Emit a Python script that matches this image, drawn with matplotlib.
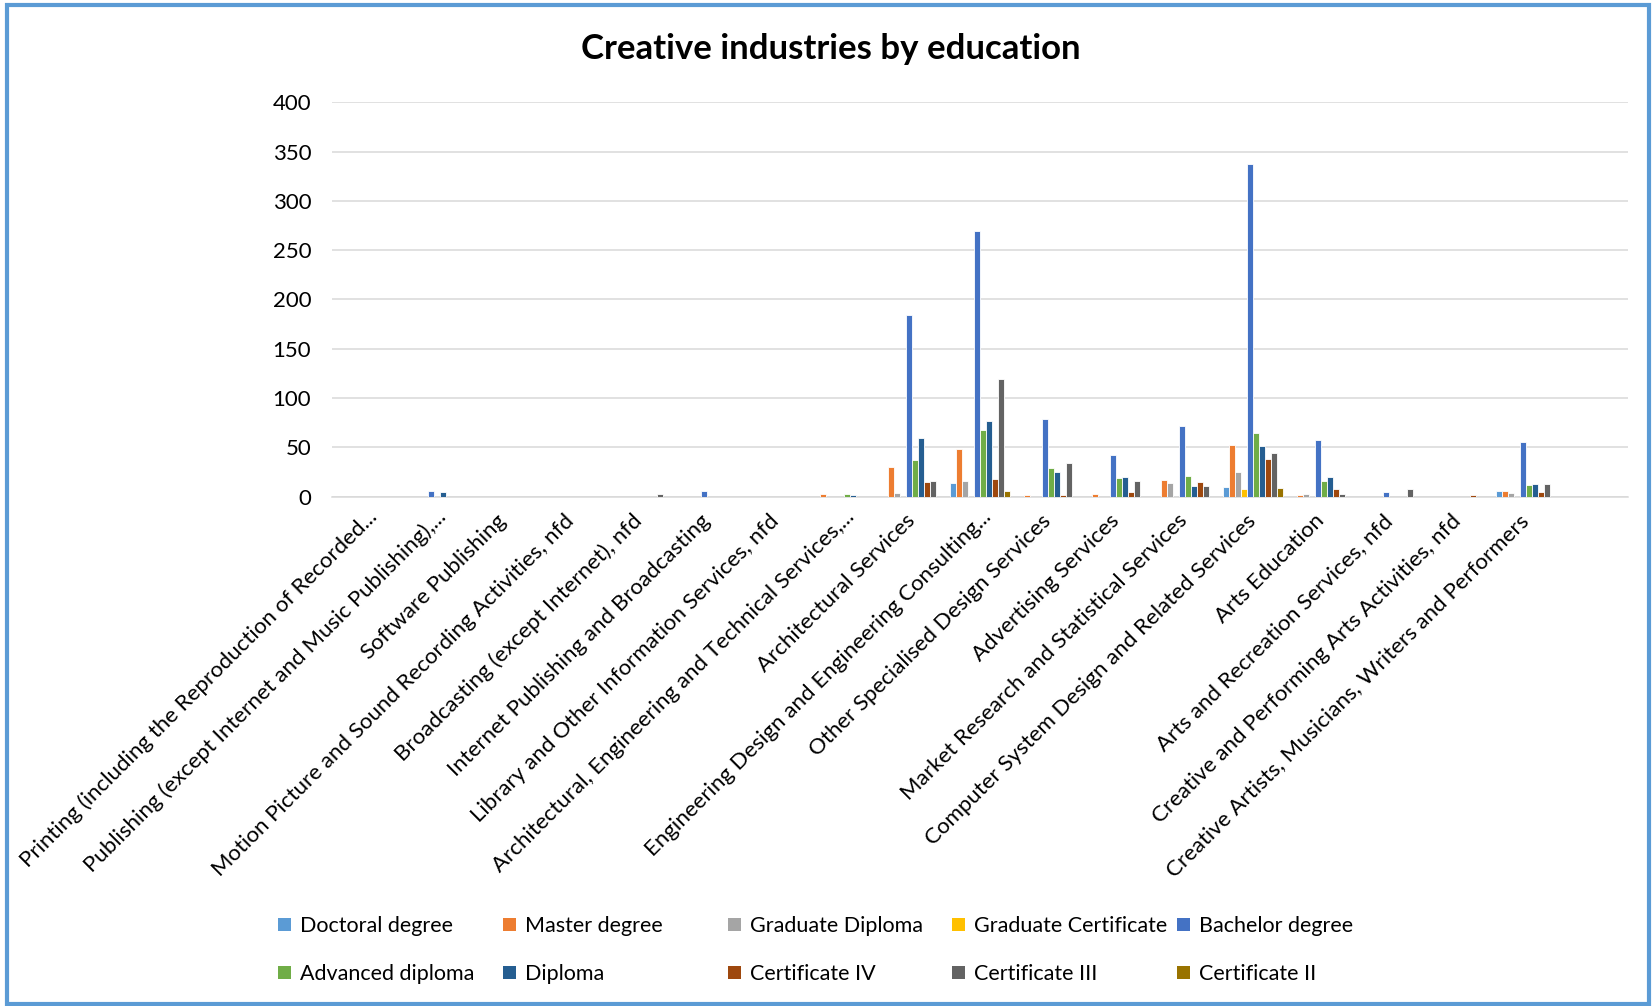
import matplotlib
matplotlib.use("Agg")
import matplotlib.pyplot as plt
import matplotlib.transforms as mtransforms
from matplotlib.patches import Rectangle, Patch
import numpy as np

plt.rcParams["font.family"] = ["Lato", "DejaVu Sans"]

CATEGORIES = [
    "Printing (including the Reproduction of Recorded...",
    "Publishing (except Internet and Music Publishing),...",
    "Software Publishing",
    "Motion Picture and Sound Recording Activities, nfd",
    "Broadcasting (except Internet), nfd",
    "Internet Publishing and Broadcasting",
    "Library and Other Information Services, nfd",
    "Architectural, Engineering and Technical Services,...",
    "Architectural Services",
    "Engineering Design and Engineering Consulting...",
    "Other Specialised Design Services",
    "Advertising Services",
    "Market Research and Statistical Services",
    "Computer System Design and Related Services",
    "Arts Education",
    "Arts and Recreation Services, nfd",
    "Creative and Performing Arts Activities, nfd",
    "Creative Artists, Musicians, Writers and Performers",
]

SERIES = [
    "Doctoral degree", "Master degree", "Graduate Diploma", "Graduate Certificate",
    "Bachelor degree", "Advanced diploma", "Diploma", "Certificate IV",
    "Certificate III", "Certificate II",
]
COLORS = [
    "#5B9BD5", "#ED7D31", "#A5A5A5", "#FFC000", "#4472C4",
    "#70AD47", "#255E91", "#9E480E", "#636363", "#997300",
]

# one list per education level, one value per industry (same order as CATEGORIES)
doctoral = [0, 0, 0, 0, 0, 0, 0, 0, 0, 14, 0, 0, 0, 10, 0, 0, 0, 6]
master = [0, 0, 0, 0, 0, 0, 0, 3, 30, 48, 2, 3, 17, 52, 2, 0, 0, 6]
grad_diploma = [0, 0, 0, 0, 0, 0, 0, 0, 4, 16, 0, 0, 14, 25, 3, 0, 0, 4]
grad_certificate = [0, 0, 0, 0, 0, 0, 0, 0, 0, 0, 0, 0, 0, 8, 0, 0, 0, 0]
bachelor = [0, 6, 0, 0, 0, 6, 0, 0, 184, 269, 79, 42, 72, 337, 57, 5, 0, 55]
adv_diploma = [0, 0, 0, 0, 0, 0, 0, 3, 37, 68, 29, 19, 21, 65, 16, 0, 0, 12]
diploma = [0, 5, 0, 0, 0, 0, 0, 2, 59, 77, 25, 20, 11, 51, 20, 0, 0, 13]
cert_iv = [0, 0, 0, 0, 0, 0, 0, 0, 15, 18, 2, 5, 15, 38, 8, 0, 2, 5]
cert_iii = [0, 0, 0, 0, 3, 0, 0, 0, 16, 119, 34, 16, 11, 44, 3, 8, 0, 13]
cert_ii = [0, 0, 0, 0, 0, 0, 0, 0, 0, 6, 0, 0, 0, 9, 0, 0, 0, 0]

VALUES = [doctoral, master, grad_diploma, grad_certificate, bachelor,
          adv_diploma, diploma, cert_iv, cert_iii, cert_ii]

FONT = 16

fig = plt.figure(figsize=(16.52, 10.06), dpi=100)
ax = fig.add_axes([0.201, 0.5063, 0.7845, 0.392])

x = np.arange(len(CATEGORIES))
width = 0.088
for k, (name, vals, color) in enumerate(zip(SERIES, VALUES, COLORS)):
    ax.bar(x + (k - 4.5) * width, vals, width=width, color=color,
           edgecolor="white", linewidth=0.6, label=name, zorder=3)

ax.set_xlim(-0.5, len(CATEGORIES) + 0.5)
ax.set_ylim(0, 400)
ax.set_yticks(np.arange(0, 401, 50))
ax.yaxis.grid(True, color="#D9D9D9", linewidth=1.1, zorder=0)
ax.tick_params(axis="y", length=0, pad=15, labelsize=FONT)
ax.tick_params(axis="x", length=0, pad=0, labelsize=FONT)
for side in ("top", "right", "left"):
    ax.spines[side].set_visible(False)
ax.spines["bottom"].set_color("#D9D9D9")
ax.spines["bottom"].set_linewidth(1.1)

ax.set_xticks(x)
ax.set_xticklabels(CATEGORIES, rotation=45, ha="right", va="center",
                   rotation_mode="anchor")
# truncated labels sit a little further right than the full ones
plain_offset = mtransforms.ScaledTranslation(0.0, -0.21, fig.dpi_scale_trans)
cut_offset = mtransforms.ScaledTranslation(0.08, -0.17, fig.dpi_scale_trans)
for lbl in ax.get_xticklabels():
    off = cut_offset if lbl.get_text().endswith("...") else plain_offset
    lbl.set_transform(lbl.get_transform() + off)

fig.text(0.503, 0.951, "Creative industries by education", ha="center",
         va="center", fontsize=25, fontweight="bold")

handles = [Patch(facecolor=c, label=s) for s, c in zip(SERIES, COLORS)]
col_x = [278, 503, 728, 952, 1177]
for c, cx in enumerate(col_x):
    fig.legend(handles=[handles[c], handles[c + 5]], loc="center left",
               bbox_to_anchor=(cx / 1652, 1 - 950 / 1006), frameon=False,
               fontsize=15.5, borderpad=0, borderaxespad=0,
               handlelength=0.6, handleheight=0.6, handletextpad=0.4,
               labelspacing=1.3)

fig.patches.append(Rectangle((0.004, 0.002), 0.994, 0.993,
                             transform=fig.transFigure, fill=False,
                             edgecolor="#5B9BD5", linewidth=3))

fig.savefig("out.png", dpi=100)
